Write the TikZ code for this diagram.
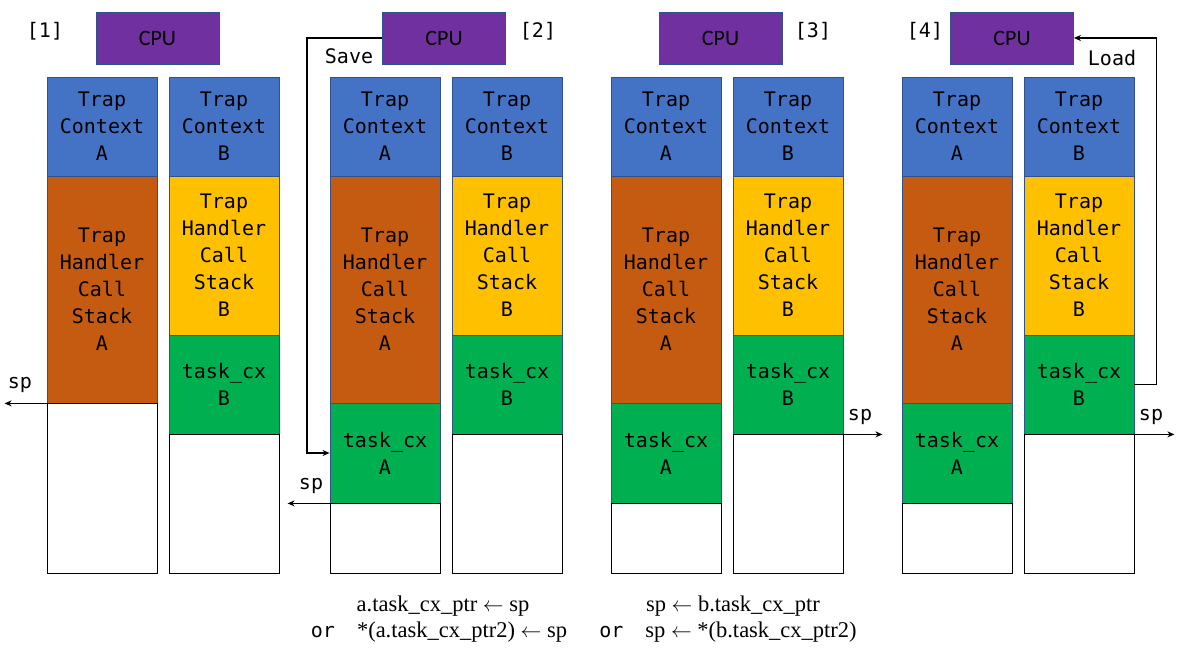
\documentclass[tikz,border=0pt]{standalone}
\usepackage{fontspec}
\usetikzlibrary{arrows.meta}
\newfontfamily\monof{DejaVu Sans Mono}
\newfontfamily\cpuf{Carlito}
\newfontfamily\serf{Liberation Serif}
\definecolor{tcblue}{HTML}{4472C4}
\definecolor{hdorange}{HTML}{C55A11}
\definecolor{hdyellow}{HTML}{FFC000}
\definecolor{cxgreen}{HTML}{00B050}
\definecolor{cpupurple}{HTML}{7030A0}
\definecolor{edgeblue}{HTML}{2F528F}
\tikzset{
  seg/.style={rectangle, inner sep=0pt, minimum width=110pt, draw=edgeblue, line width=0.8pt,
    align=center, font=\monof\fontsize{20}{27}\selectfont},
  emptyseg/.style={seg, draw=black, fill=white},
  cpubox/.style={rectangle, inner sep=0pt, minimum width=123pt, minimum height=52pt, fill=cpupurple,
    draw=edgeblue, line width=0.8pt, font=\cpuf\fontsize{22}{24}\selectfont},
  lbl/.style={inner sep=0pt, font=\monof\fontsize{20}{24}\selectfont},
  captext/.style={inner sep=0pt, font=\serf\fontsize{22.5}{26}\selectfont},
  conn/.style={draw=black, line width=1.5pt, -{Stealth[length=7pt,width=6pt]}},
}
\newcommand\larrw{\ $\leftarrow$\ }
\newcommand\orword{{\monof\fontsize{20}{24}\selectfont or}\hspace{22pt}}
% \segbox{name}{left x}{top y}{bottom y}{style}{text}
\newcommand\segbox[6]{\node[#5, minimum height={#4-#3}] (#1) at ({#2+55},{(#3+#4)/2}) {#6};}
\begin{document}
\begin{tikzpicture}[x=1pt,y=-1pt]
\useasboundingbox (0,0) rectangle (1183,652);
% ---------- panel 1
\node[cpubox] (cpu1) at (157.5,38) {CPU};
\node[lbl] (n1) at (45,31) {[1]};
\segbox{tA1}{47}{77}{176}{seg,fill=tcblue}{Trap\\Context\\A}
\segbox{oA1}{47}{176}{403}{seg,fill=hdorange}{Trap\\Handler\\Call\\Stack\\A}
\segbox{wA1}{47}{403}{573}{emptyseg}{}
\segbox{tB1}{169}{77}{176}{seg,fill=tcblue}{Trap\\Context\\B}
\segbox{yB1}{169}{176}{335}{seg,fill=hdyellow}{Trap\\Handler\\Call\\Stack\\B}
\segbox{gB1}{169}{335}{434}{seg,fill=cxgreen}{task\_cx\\B}
\segbox{wB1}{169}{434}{573}{emptyseg}{}
\coordinate (sp1) at ([xshift=-42pt]oA1.south west);
\draw[conn] (oA1.south west) -- (sp1);
\node[lbl] (sp1l) at (20,385) {sp};
% ---------- panel 2
\node[cpubox] (cpu2) at (444,38) {CPU};
\node[lbl] (n2) at (538,31) {[2]};
\segbox{tA2}{330}{77}{176}{seg,fill=tcblue}{Trap\\Context\\A}
\segbox{oA2}{330}{176}{403}{seg,fill=hdorange}{Trap\\Handler\\Call\\Stack\\A}
\segbox{gA2}{330}{403}{503}{seg,fill=cxgreen}{task\_cx\\A}
\segbox{wA2}{330}{503}{573}{emptyseg}{}
\segbox{tB2}{452}{77}{176}{seg,fill=tcblue}{Trap\\Context\\B}
\segbox{yB2}{452}{176}{335}{seg,fill=hdyellow}{Trap\\Handler\\Call\\Stack\\B}
\segbox{gB2}{452}{335}{434}{seg,fill=cxgreen}{task\_cx\\B}
\segbox{wB2}{452}{434}{573}{emptyseg}{}
\draw[conn] (cpu2.west) -- ++(-75,0) |- (gA2.west);
\node[lbl] (save) at (349,56) {Save};
\coordinate (sp2) at ([xshift=-42pt]gA2.south west);
\draw[conn] (gA2.south west) -- (sp2);
\node[lbl] (sp2l) at (311,486) {sp};
\node[captext] (c2a) at (443,606) {a.task\_cx\_ptr\larrw sp};
\node[captext] (c2b) at (439,632) {\orword*(a.task\_cx\_ptr2)\larrw sp};
% ---------- panel 3
\node[cpubox] (cpu3) at (720.5,38) {CPU};
\node[lbl] (n3) at (813,31) {[3]};
\segbox{tA3}{611}{77}{176}{seg,fill=tcblue}{Trap\\Context\\A}
\segbox{oA3}{611}{176}{403}{seg,fill=hdorange}{Trap\\Handler\\Call\\Stack\\A}
\segbox{gA3}{611}{403}{503}{seg,fill=cxgreen}{task\_cx\\A}
\segbox{wA3}{611}{503}{573}{emptyseg}{}
\segbox{tB3}{733}{77}{176}{seg,fill=tcblue}{Trap\\Context\\B}
\segbox{yB3}{733}{176}{335}{seg,fill=hdyellow}{Trap\\Handler\\Call\\Stack\\B}
\segbox{gB3}{733}{335}{434}{seg,fill=cxgreen}{task\_cx\\B}
\segbox{wB3}{733}{434}{573}{emptyseg}{}
\coordinate (sp3) at ([xshift=39pt]gB3.south east);
\draw[conn] (gB3.south east) -- (sp3);
\node[lbl] (sp3l) at (860,417) {sp};
\node[captext] (c3a) at (733,606) {sp\larrw b.task\_cx\_ptr};
\node[captext] (c3b) at (728,632) {\orword sp\larrw *(b.task\_cx\_ptr2)};
% ---------- panel 4
\node[cpubox] (cpu4) at (1012,38) {CPU};
\node[lbl] (n4) at (925,31) {[4]};
\segbox{tA4}{902}{77}{176}{seg,fill=tcblue}{Trap\\Context\\A}
\segbox{oA4}{902}{176}{403}{seg,fill=hdorange}{Trap\\Handler\\Call\\Stack\\A}
\segbox{gA4}{902}{403}{503}{seg,fill=cxgreen}{task\_cx\\A}
\segbox{wA4}{902}{503}{573}{emptyseg}{}
\segbox{tB4}{1024}{77}{176}{seg,fill=tcblue}{Trap\\Context\\B}
\segbox{yB4}{1024}{176}{335}{seg,fill=hdyellow}{Trap\\Handler\\Call\\Stack\\B}
\segbox{gB4}{1024}{335}{434}{seg,fill=cxgreen}{task\_cx\\B}
\segbox{wB4}{1024}{434}{573}{emptyseg}{}
\draw[conn] (gB4.east) -- ++(22,0) |- (cpu4.east);
\node[lbl] (load) at (1112,58) {Load};
\coordinate (sp4) at ([xshift=40pt]gB4.south east);
\draw[conn] (gB4.south east) -- (sp4);
\node[lbl] (sp4l) at (1151,417) {sp};
\end{tikzpicture}
\end{document}
